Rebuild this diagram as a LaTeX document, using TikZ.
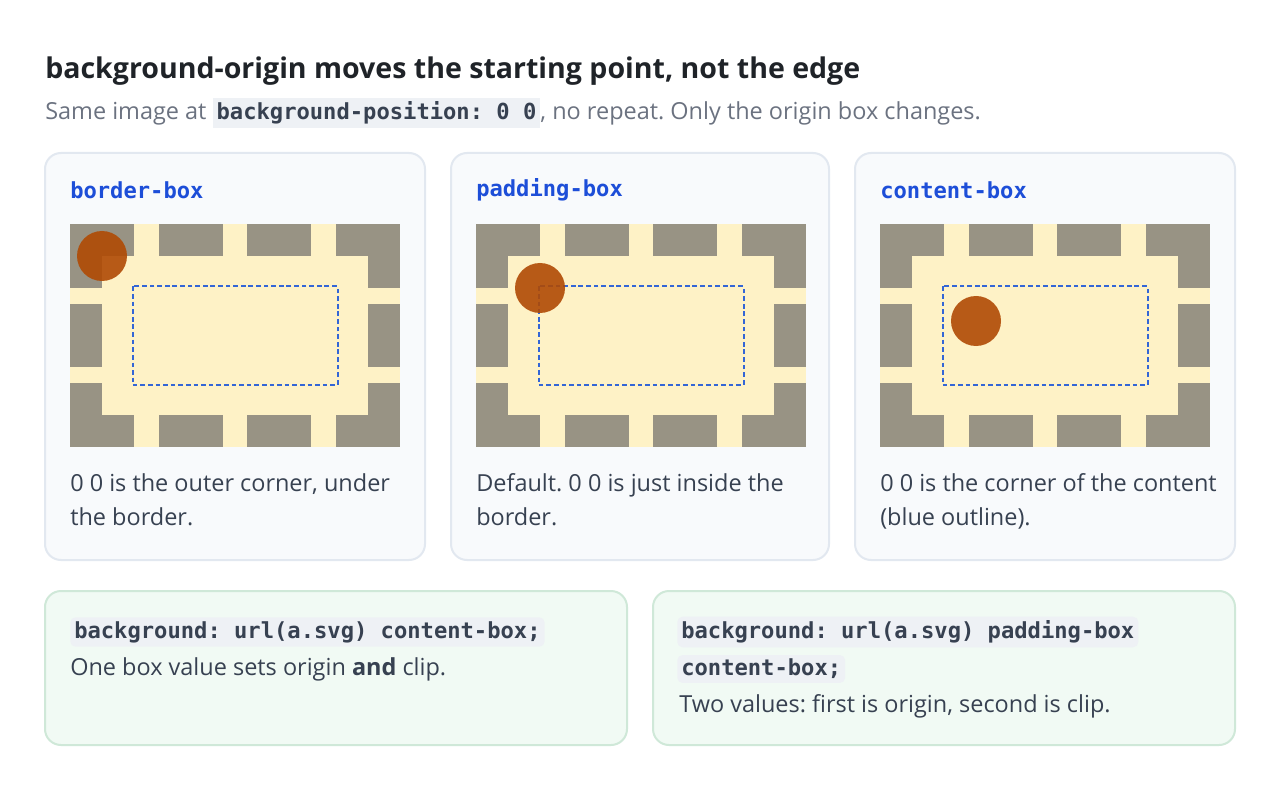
\documentclass[tikz,border=0pt]{standalone}
\usepackage{fontspec}
\setmainfont{Open Sans}
\setmonofont{DejaVu Sans Mono}
\frenchspacing
\definecolor{ink}{HTML}{1F2328}
\definecolor{muted}{HTML}{6B7280}
\definecolor{body}{HTML}{374151}
\definecolor{cardbg}{HTML}{F8FAFC}
\definecolor{cardline}{HTML}{E2E8F0}
\definecolor{notebg}{HTML}{F1FAF4}
\definecolor{noteline}{HTML}{CFE8D8}
\definecolor{chip}{HTML}{EEF1F5}
\definecolor{boxblue}{HTML}{1D4ED8}
\definecolor{dashblue}{HTML}{3366D6}
\definecolor{tile}{HTML}{989384}
\definecolor{cream}{HTML}{FEF2C6}
\definecolor{dot}{HTML}{B04A04}
\newcommand{\codefont}{\ttfamily\bfseries\fontsize{16.6}{20}\selectfont}
\newcommand{\bodyfont}{\fontsize{17.6}{25.5}\selectfont}

\begin{document}
\begin{tikzpicture}[x=0.75pt,y=-0.75pt,
  card/.style={draw=cardline,fill=cardbg,line width=1.5pt,rounded corners=12pt},
  note/.style={draw=noteline,fill=notebg,line width=1.5pt,rounded corners=12pt},
  boxname/.style={anchor=west,inner sep=0pt,text=boxblue,font=\codefont},
  caption/.style={anchor=north west,inner sep=0pt,text=body,font=\bodyfont,align=left},
  code/.style={anchor=west,inner sep=3pt,fill=chip,rounded corners=4pt,text=body,font=\codefont}]
  \useasboundingbox (0,0) rectangle (1280,798);
  \fill[white] (0,0) rectangle (1280,798);

  % heading
  \node[anchor=west,inner sep=0pt,text=ink,font=\bfseries\fontsize{21.4}{26}\selectfont] (title) at (45,71)
    {background-origin moves the starting point, not the edge};
  \node[anchor=west,inner sep=0pt,text=muted,font=\bodyfont] (sub) at (45,113)
    {Same image at \colorbox{chip}{\codefont\textcolor{body}{background-position: 0 0}}, no repeat. Only the origin box changes.};

  % cards
  \foreach \x/\w/\name/\cx/\cy/\txt in {
      45/380/border-box/32/32/{0 0 is the outer corner, under\\the border.},
      451/378/padding-box/64/64/{Default. 0 0 is just inside the\\border.},
      855/380/content-box/96/97/{0 0 is the corner of the content\\(blue outline).}}{
    \draw[card] (\x,153) rectangle ++(\w,407);
    \node[boxname] (name-\name) at (\x+25,190) {\name};
    \begin{scope}[shift={(\x+25,224)}]
      \fill[tile] (0,0) rectangle (330,223);
      \fill[cream] (32,32) rectangle (298,191);
      \foreach \a/\b in {64/89,153/177,241/266}{
        \fill[cream] (\a,0) rectangle (\b,32);
        \fill[cream] (\a,191) rectangle (\b,223);}
      \foreach \a/\b in {64/80,143/159}{
        \fill[cream] (0,\a) rectangle (32,\b);
        \fill[cream] (298,\a) rectangle (330,\b);}
      \draw[dashblue,line width=1.5pt,dash pattern=on 3.5pt off 2.2pt] (62.5,62.5) rectangle (267.5,161);
      \fill[dot,opacity=0.9] (\cx,\cy) circle[radius=25];
    \end{scope}
    \node[caption] (cap-\name) at (\x+25,473) {\txt};
  }

  % notes
  \draw[note] (45,591) rectangle (627,745);
  \node[code] (code-one) at (70,632) {background: url(a.svg) content-box;};
  \node[anchor=west,inner sep=0pt,text=body,font=\bodyfont] (txt-one) at (70,669)
    {One box value sets origin \textbf{and} clip.};

  \draw[note] (653,591) rectangle (1235,745);
  \node[code] (code-two) at (677,632) {background: url(a.svg) padding-box};
  \node[code] (code-three) at (677,669) {content-box;};
  \node[anchor=west,inner sep=0pt,text=body,font=\bodyfont] (txt-two) at (679,706)
    {Two values: first is origin, second is clip.};
\end{tikzpicture}
\end{document}
